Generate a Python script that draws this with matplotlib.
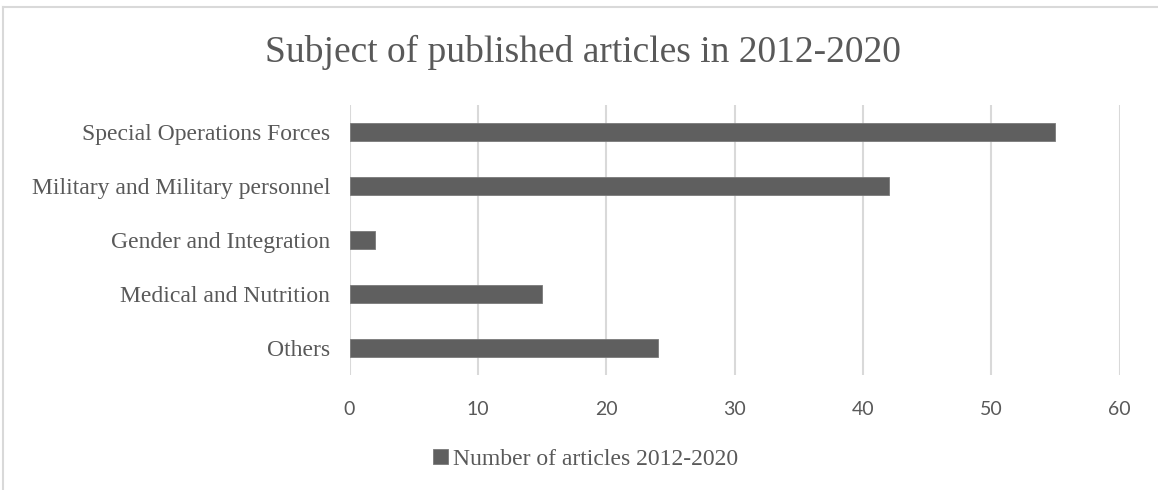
import matplotlib
matplotlib.use("Agg")
import matplotlib.pyplot as plt
from matplotlib.patches import Patch
from matplotlib.lines import Line2D

categories = ["Special Operations Forces", "Military and Military personnel",
              "Gender and Integration", "Medical and Nutrition", "Others"]
values = [55, 42, 2, 15, 24]
xticks = [0, 10, 20, 30, 40, 50, 60]
title = "Subject of published articles in 2012-2020"
series_name = "Number of articles 2012-2020"

W, H = 1158, 490
fig = plt.figure(figsize=(W / 100, H / 100), dpi=100)
fig.patch.set_facecolor("white")

ax = fig.add_axes([349.5 / W, 1 - 375 / H, 770 / W, 270 / H])
ypos = list(range(len(categories)))
ax.barh(ypos, values, height=0.35, color="#5f5f5f", edgecolor="#7a7a7a",
        linewidth=0.6, zorder=3)
ax.set_ylim(len(categories) - 0.5, -0.5)
ax.set_xlim(0, 60)
ax.set_xticks(xticks)
ax.set_xticklabels([str(t) for t in xticks], family="Lato", fontsize=14, color="#595959")
ax.set_yticks(ypos)
ax.set_yticklabels(categories, family="Liberation Serif", fontsize=17, color="#595959")
ax.tick_params(axis="both", length=0)
ax.tick_params(axis="x", pad=19)
ax.tick_params(axis="y", pad=14)
ax.grid(axis="x", color="#d9d9d9", linewidth=1.5, zorder=0)
for s in ax.spines.values():
    s.set_visible(False)

fig.text(583 / W, 1 - 52 / H, title, ha="center", va="center",
         family="Liberation Serif", fontsize=27, color="#595959")

handle = Patch(facecolor="#5f5f5f", edgecolor="#7a7a7a", linewidth=0.6)
fig.legend([handle], [series_name], loc="center", bbox_to_anchor=(586 / W, 1 - 459 / H),
           frameon=False, prop={"family": "Liberation Serif", "size": 17},
           handlelength=0.6, handleheight=0.6, handletextpad=0.25, labelcolor="#595959")

# outer border (chart area frame)
fig.add_artist(Line2D([3 / W, 1.0], [1 - 7 / H, 1 - 7 / H], transform=fig.transFigure,
                      color="#d9d9d9", linewidth=1.5))
fig.add_artist(Line2D([3 / W, 3 / W], [0, 1 - 7 / H], transform=fig.transFigure,
                      color="#d9d9d9", linewidth=1.5))

fig.savefig("out.png", dpi=100, facecolor="white")
